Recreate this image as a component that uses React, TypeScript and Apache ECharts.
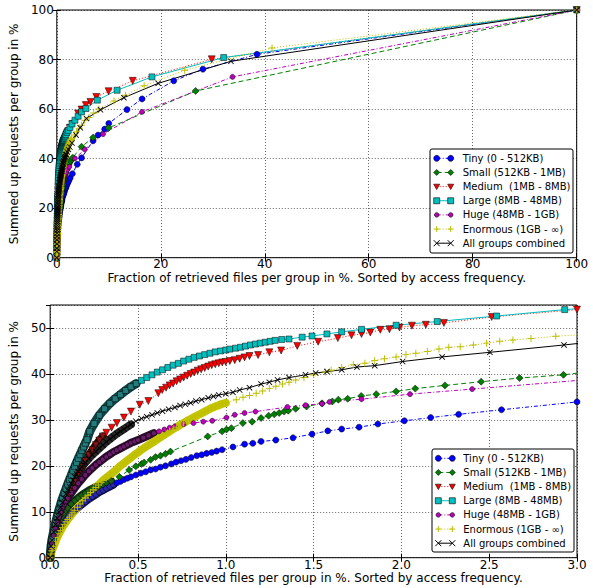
import React, { useEffect, useRef } from 'react';
import * as echarts from 'echarts';

type P = [number, number];

const TINY: P[] = [[0,0],[0.005,1.5],[0.01,2.5],[0.02,3.8],[0.03,4.8],[0.04,5.4],[0.05,6.0],[0.06,6.7],[0.07,7.3],[0.08,7.8],[0.09,8.3],[0.1,8.8],[0.12,9.6],[0.14,10.3],[0.16,11.0],[0.18,11.6],[0.2,12.2],[0.22,12.8],[0.24,13.3],[0.26,13.8],[0.28,14.3],[0.3,14.7],[0.32,15.1],[0.34,15.5],[0.36,15.9],[0.38,16.3],[0.4,16.6],[0.42,17.0],[0.44,17.3],[0.46,17.6],[0.488,18.0],[0.516,18.4],[0.544,18.7],[0.572,19.1],[0.6,19.3],[0.628,19.7],[0.657,20.0],[0.69,20.4],[0.717,20.8],[0.745,21.1],[0.773,21.4],[0.803,21.8],[0.835,22.2],[0.863,22.4],[0.891,22.7],[0.92,22.9],[0.948,23.2],[0.979,23.5],[1.041,24.1],[1.107,24.7],[1.154,24.9],[1.201,25.3],[1.285,25.6],[1.383,26.1],[1.491,26.9],[1.581,27.6],[1.66,28.0],[1.759,28.4],[1.866,29.1],[2.017,29.8],[2.167,30.5],[2.326,31.2],[2.57,32.2],[3.0,33.9],[3.93,37.7],[4.76,40.3],[6.98,47.2],[7.93,49.5],[9.2,51.9],[10.0,54.2],[13.5,59.8],[16.4,64.1],[22.5,71.4],[28.1,76.1],[38.5,82.1],[100,100]];

const SMALL: P[] = [[0,0],[0.005,1.5],[0.01,2.6],[0.02,4.2],[0.03,5.5],[0.04,6.6],[0.05,7.5],[0.06,8.3],[0.07,9.0],[0.08,9.7],[0.09,10.3],[0.1,10.8],[0.12,11.7],[0.14,12.4],[0.16,13.0],[0.18,13.6],[0.2,14.1],[0.22,14.6],[0.24,15.0],[0.26,15.4],[0.28,15.7],[0.3,16.0],[0.32,16.3],[0.347,16.7],[0.394,17.6],[0.45,19.1],[0.488,19.9],[0.52,20.4],[0.535,20.7],[0.572,21.3],[0.6,21.9],[0.628,22.2],[0.657,22.6],[0.685,23.1],[0.897,26.4],[0.979,27.5],[1.004,27.9],[1.032,28.2],[1.097,29.3],[1.15,29.6],[1.201,30.4],[1.244,30.9],[1.276,31.2],[1.304,31.5],[1.332,31.8],[1.356,32.0],[1.398,32.4],[1.46,32.9],[1.548,33.6],[1.607,34.0],[1.641,34.4],[1.694,34.6],[1.771,35.2],[1.857,35.6],[1.97,36.2],[2.079,36.8],[2.248,37.5],[2.454,38.3],[2.673,39.1],[2.923,39.8],[3.05,40.4],[4.76,44.8],[6.98,48.5],[9.96,52.4],[26.7,67.3],[100,100]];

const MEDIUM: P[] = [[0,0],[0.005,2.0],[0.01,3.0],[0.02,4.6],[0.03,5.9],[0.04,7.1],[0.05,8.2],[0.06,9.3],[0.07,10.3],[0.08,11.3],[0.09,12.2],[0.1,13.1],[0.12,14.9],[0.14,16.6],[0.16,18.2],[0.18,19.7],[0.2,21.0],[0.22,22.3],[0.24,23.4],[0.26,24.5],[0.28,25.5],[0.3,26.4],[0.32,27.2],[0.35,28.3],[0.38,29.3],[0.42,30.5],[0.46,31.8],[0.51,33.3],[0.559,34.1],[0.616,35.8],[0.638,36.5],[0.66,37.0],[0.68,37.5],[0.7,37.9],[0.72,38.4],[0.74,38.8],[0.76,39.2],[0.78,39.6],[0.8,40.0],[0.82,40.3],[0.84,40.7],[0.86,41.0],[0.88,41.3],[0.9,41.6],[0.92,41.9],[0.94,42.1],[0.96,42.3],[0.98,42.5],[1.0,42.6],[1.023,42.8],[1.051,43.0],[1.079,43.3],[1.107,43.6],[1.135,43.9],[1.184,44.1],[1.248,44.7],[1.315,45.1],[1.407,46.1],[1.526,47.0],[1.638,47.8],[1.716,48.4],[1.773,48.7],[1.823,49.0],[1.88,49.6],[1.932,49.7],[1.989,50.1],[2.06,50.5],[2.139,50.7],[2.242,51.1],[2.514,52.4],[3.0,54.0],[4.1,58.2],[4.76,59.8],[5.58,61.6],[6.47,62.9],[7.6,64.9],[9.96,67.2],[14.6,71.4],[29.8,80.1],[100,100]];

const LARGE: P[] = [[0,0],[0.005,2.5],[0.01,3.9],[0.02,5.8],[0.03,7.5],[0.04,9.0],[0.05,10.4],[0.06,11.7],[0.07,12.9],[0.08,14.0],[0.09,15.0],[0.1,16.0],[0.11,17.0],[0.12,17.9],[0.13,18.9],[0.14,19.8],[0.15,20.7],[0.16,21.6],[0.17,22.4],[0.18,23.3],[0.19,24.1],[0.2,24.9],[0.21,25.7],[0.225,27.5],[0.25,29.2],[0.28,31.0],[0.31,32.4],[0.34,33.6],[0.37,34.6],[0.4,35.5],[0.43,36.4],[0.46,37.2],[0.49,37.9],[0.52,38.6],[0.55,39.2],[0.58,39.8],[0.61,40.4],[0.64,40.9],[0.67,41.4],[0.7,41.9],[0.73,42.3],[0.76,42.8],[0.79,43.2],[0.82,43.6],[0.85,43.9],[0.88,44.2],[0.91,44.5],[0.94,44.8],[0.97,45.0],[1.0,45.2],[1.023,45.4],[1.056,45.6],[1.084,45.8],[1.112,46.05],[1.141,46.3],[1.169,46.5],[1.197,46.7],[1.225,46.9],[1.253,47.1],[1.281,47.3],[1.319,47.5],[1.36,47.6],[1.435,48.0],[1.491,48.25],[1.576,48.7],[1.66,49.15],[1.773,49.7],[1.97,50.6],[2.204,51.4],[2.542,52.6],[2.93,54.0],[3.49,55.5],[4.1,57.1],[4.76,58.9],[5.6,60.2],[7.8,63.6],[11.6,67.6],[18.3,73.0],[32.1,80.8],[100,100]];

const HUGE: P[] = [[0,0],[0.005,2.0],[0.01,3.0],[0.02,4.8],[0.03,6.3],[0.04,7.6],[0.05,8.8],[0.06,9.9],[0.07,10.8],[0.08,11.6],[0.09,12.3],[0.1,12.9],[0.12,14.1],[0.14,15.2],[0.16,16.2],[0.18,17.1],[0.2,18.0],[0.22,18.8],[0.24,19.5],[0.26,20.2],[0.28,20.8],[0.3,21.4],[0.32,22.0],[0.34,22.5],[0.36,23.0],[0.38,23.4],[0.4,23.8],[0.42,24.2],[0.44,24.6],[0.46,25.0],[0.48,25.3],[0.5,25.6],[0.53,26.1],[0.56,26.6],[0.59,27.1],[0.62,27.5],[0.65,27.9],[0.68,28.3],[0.71,28.6],[0.76,29.1],[0.816,29.3],[0.872,29.6],[0.923,29.8],[1.004,30.5],[1.051,31.1],[1.107,31.5],[1.169,31.8],[1.351,32.8],[1.454,33.2],[1.548,33.5],[1.591,33.9],[1.773,34.5],[2.049,35.6],[2.403,36.7],[3.49,40.1],[5.39,43.7],[8.9,49.9],[16.4,58.9],[33.8,73.0],[100,100]];

const ENORMOUS: P[] = [[0,0],[0.005,0.8],[0.01,1.5],[0.015,2.0],[0.02,2.5],[0.03,3.5],[0.04,4.4],[0.05,5.2],[0.06,5.9],[0.07,6.6],[0.08,7.2],[0.09,7.8],[0.1,8.3],[0.11,8.8],[0.12,9.3],[0.13,9.8],[0.14,10.3],[0.155,11.0],[0.17,11.7],[0.185,12.4],[0.2,13.0],[0.215,13.6],[0.23,14.2],[0.245,14.8],[0.26,15.3],[0.275,15.8],[0.29,16.4],[0.3,16.8],[0.32,17.4],[0.34,18.0],[0.36,18.6],[0.38,19.3],[0.4,20.0],[0.42,20.6],[0.44,21.2],[0.46,21.8],[0.48,22.4],[0.5,22.9],[0.52,23.5],[0.54,24.0],[0.56,24.5],[0.58,25.0],[0.6,25.5],[0.62,26.0],[0.64,26.5],[0.66,27.0],[0.68,27.5],[0.7,28.0],[0.72,28.4],[0.74,28.9],[0.76,29.3],[0.78,29.8],[0.8,30.2],[0.82,30.6],[0.84,31.0],[0.86,31.4],[0.88,31.8],[0.9,32.2],[0.92,32.6],[0.94,32.9],[0.96,33.2],[0.98,33.5],[1.0,33.7],[1.06,34.4],[1.098,34.9],[1.135,35.3],[1.173,35.8],[1.21,36.3],[1.248,36.8],[1.285,37.3],[1.323,37.8],[1.36,38.2],[1.398,38.7],[1.445,39.2],[1.501,39.8],[1.567,40.4],[1.6,40.8],[1.66,41.4],[1.726,42.0],[1.792,42.3],[1.848,42.9],[1.904,43.3],[1.97,43.7],[2.026,44.2],[2.082,44.5],[2.148,44.9],[2.214,45.4],[2.27,45.8],[2.335,45.9],[2.41,46.3],[2.485,46.7],[2.56,47.1],[2.635,47.4],[2.738,47.7],[2.879,48.2],[3.4,49.5],[3.8,50.8],[4.3,52.3],[4.76,53.5],[5.39,55.5],[6.2,56.6],[7.1,58.4],[8.1,60.0],[11.0,63.3],[13.2,65.6],[16.8,69.4],[24.6,75.7],[41.4,84.7],[100,100]];

const ALL: P[] = [[0,0],[0.005,2.5],[0.01,3.8],[0.02,5.6],[0.03,7.2],[0.04,8.6],[0.05,9.9],[0.06,11.0],[0.07,12.0],[0.08,13.0],[0.09,13.9],[0.1,14.7],[0.11,15.5],[0.12,16.2],[0.13,16.9],[0.14,17.6],[0.15,18.2],[0.16,18.8],[0.17,19.3],[0.18,19.8],[0.19,20.3],[0.2,20.7],[0.22,21.6],[0.24,22.4],[0.26,23.1],[0.28,23.8],[0.3,24.5],[0.32,25.2],[0.34,25.8],[0.36,26.4],[0.38,27.0],[0.4,27.5],[0.42,28.0],[0.44,28.5],[0.46,29.0],[0.488,29.7],[0.52,30.3],[0.55,30.7],[0.58,31.1],[0.61,31.5],[0.64,31.9],[0.675,32.3],[0.71,32.7],[0.74,33.1],[0.77,33.4],[0.8,33.7],[0.83,34.1],[0.863,34.4],[0.9,34.8],[0.93,35.1],[0.96,35.4],[1.0,35.7],[1.041,36.0],[1.079,36.5],[1.135,37.0],[1.201,37.8],[1.248,38.2],[1.295,38.7],[1.36,39.2],[1.454,39.8],[1.512,40.2],[1.576,40.5],[1.66,40.9],[1.747,41.5],[1.848,41.8],[2.007,42.7],[2.232,43.7],[2.504,44.7],[2.926,46.3],[3.7,49.5],[4.5,52.5],[5.7,56.2],[8.4,59.7],[12.9,64.6],[19.5,70.4],[33.5,79.3],[100,100]];

const X_NAME = 'Fraction of retrieved files per group in %. Sorted by access frequency.';
const Y_NAME = 'Summed up requests per group in %';
const TOP_X = { min: 0, max: 100, interval: 20 };
const TOP_Y = { min: 0, max: 100, interval: 20 };
const BOT_X = { min: 0, max: 3, interval: 0.5 };
const BOT_Y = { min: 0, max: 55, interval: 10 };

const PLUS = 'path://M4.3,0H5.7V4.3H10V5.7H5.7V10H4.3V5.7H0V4.3H4.3Z';
const CROSS = 'path://M0,1L1,0L5,4L9,0L10,1L6,5L10,9L9,10L5,6L1,10L0,9L4,5Z';

const GROUPS = [
  { name: 'Tiny (0 - 512KB)', data: TINY, color: '#0000ff', symbol: 'circle', mk: 'circle', size: 6, dash: [4, 2, 1, 2], band: 0.36, bandW: 8, bandColor: '#10105e', dense: '#2828a8' },
  { name: 'Small (512KB - 1MB)', data: SMALL, color: '#008000', symbol: 'diamond', mk: 'diamond', size: 7, dash: [5, 3], band: 0.35, bandW: 8, bandColor: '#0f360f', dense: '#1a5e1a' },
  { name: 'Medium \u00a0(1MB - 8MB)', data: MEDIUM, color: '#ff0000', symbol: 'triangle', mk: 'tri', size: 7, rotate: 180, dash: [1, 2], band: 0.3, bandW: 8, bandColor: '#350a0a', dense: '#861414' },
  { name: 'Large (8MB - 48MB)', data: LARGE, color: '#00bfbf', symbol: 'rect', mk: 'rect', size: 6, dash: 'solid', band: 0.5, bandW: 9, bandColor: '#114444', dense: '#237c7c' },
  { name: 'Huge (48MB - 1GB)', data: HUGE, color: '#bf00bf', symbol: 'circle', mk: 'circle', size: 5, dash: [4, 2, 1, 2], band: 0.6, bandW: 8, bandColor: '#2e0e2e', dense: '#6a1c6a' },
  { name: 'Enormous (1GB - \u221e)', data: ENORMOUS, color: '#bfbf00', symbol: PLUS, mk: 'plus', size: 7, dash: [1, 2], band: 1.0, bandW: 8, bandColor: '#c4c400', dense: '#bfbf00', noBorder: true },
  { name: 'All groups combined', data: ALL, color: '#000000', symbol: CROSS, mk: 'cross', size: 6, dash: 'solid', band: 0.46, bandW: 8, bandColor: '#262626', dense: '#000000', noBorder: true },
];

const FONT = '"DejaVu Sans", "Liberation Sans", sans-serif';

function markerEls(mk: string, cx: number, cy: number, color: string, size: number) {
  const r = size / 2;
  const st = { fill: color, stroke: '#000', lineWidth: 0.6 };
  switch (mk) {
    case 'circle':
      return [{ type: 'circle', shape: { cx, cy, r }, style: st }];
    case 'diamond':
      return [{ type: 'polygon', shape: { points: [[cx, cy - r], [cx + r, cy], [cx, cy + r], [cx - r, cy]] }, style: st }];
    case 'tri':
      return [{ type: 'polygon', shape: { points: [[cx - r, cy - r * 0.8], [cx + r, cy - r * 0.8], [cx, cy + r]] }, style: st }];
    case 'rect':
      return [{ type: 'rect', shape: { x: cx - r, y: cy - r, width: size, height: size }, style: st }];
    case 'plus':
      return [
        { type: 'line', shape: { x1: cx - r, y1: cy, x2: cx + r, y2: cy }, style: { stroke: color, lineWidth: 1 } },
        { type: 'line', shape: { x1: cx, y1: cy - r, x2: cx, y2: cy + r }, style: { stroke: color, lineWidth: 1 } },
      ];
    default:
      return [
        { type: 'line', shape: { x1: cx - r, y1: cy - r, x2: cx + r, y2: cy + r }, style: { stroke: color, lineWidth: 1 } },
        { type: 'line', shape: { x1: cx - r, y1: cy + r, x2: cx + r, y2: cy - r }, style: { stroke: color, lineWidth: 1 } },
      ];
  }
}

function legend(bx: number, by: number, bw: number, bh: number, row0: number, step: number, m1: number, m2: number, tx: number) {
  const els: any[] = [
    { type: 'rect', shape: { x: bx, y: by, width: bw, height: bh, r: 2 }, style: { fill: '#fff', stroke: '#000', lineWidth: 1 }, z: 100 },
  ];
  GROUPS.forEach((g, i) => {
    const cy = row0 + i * step;
    els.push({
      type: 'line', z: 101,
      shape: { x1: m1, y1: cy, x2: m2, y2: cy },
      style: { stroke: g.color, lineWidth: 1, lineDash: g.dash === 'solid' ? null : g.dash },
    });
    const ms = g.mk === 'circle' && g.size < 6 ? 4.5 : Math.min(g.size, 6);
    markerEls(g.mk, m1, cy, g.color, ms).forEach((e: any) => els.push({ ...e, z: 102 }));
    markerEls(g.mk, m2, cy, g.color, ms).forEach((e: any) => els.push({ ...e, z: 102 }));
    els.push({
      type: 'text', z: 102, x: tx, y: cy,
      style: { text: g.name, fill: '#000', font: '10px ' + FONT, align: 'left', verticalAlign: 'middle', textAlign: 'left', textVerticalAlign: 'middle' },
    });
  });
  return els;
}

function mainAxis(gridIndex: number, sc: any, extra: any) {
  return {
    gridIndex, type: 'value', min: sc.min, max: sc.max, interval: sc.interval,
    axisLine: { show: false },
    axisTick: { show: true, inside: true, length: 4, lineStyle: { color: '#000', width: 1 } },
    axisLabel: { color: '#000', fontSize: 12, fontFamily: FONT, margin: 3 },
    splitLine: { show: true, lineStyle: { color: '#000', width: 0.6, type: [1, 2] } },
    nameTextStyle: { color: '#000', fontSize: 12, fontFamily: FONT },
    ...extra,
  };
}

function sideAxis(gridIndex: number, sc: any, position: string) {
  return {
    gridIndex, type: 'value', position, min: sc.min, max: sc.max, interval: sc.interval,
    axisLine: { show: false },
    axisTick: { show: true, inside: true, length: 4, lineStyle: { color: '#000', width: 1 } },
    axisLabel: { show: false },
    splitLine: { show: false },
  };
}

export default function App() {
  const ref = useRef<HTMLDivElement>(null);
  useEffect(() => {
    document.body.style.margin = '0';
    if (!ref.current) return;
    const chart = echarts.init(ref.current, null, { renderer: 'svg' });
    const series: any[] = [];
    [0, 1].forEach((gi) => {
      GROUPS.forEach((g: any) => {
        if (gi === 1) {
          series.push({
            type: 'line', xAxisIndex: 1, yAxisIndex: 1, silent: true,
            data: g.data.filter((p: P) => p[0] <= g.band),
            showSymbol: false, symbol: 'none',
            lineStyle: { color: g.bandColor, width: g.bandW, cap: 'round', join: 'round' },
          });
        }
        series.push({
          name: g.name, type: 'line', xAxisIndex: gi, yAxisIndex: gi,
          data: g.data.map((p: P) => (gi === 1 && p[0] <= g.band ? { value: p, itemStyle: { color: g.dense } } : p)),
          symbol: g.symbol, symbolSize: g.size, symbolRotate: g.rotate || 0,
          showAllSymbol: true,
          itemStyle: { color: g.color, borderColor: '#000', borderWidth: g.noBorder ? 0 : 0.5 },
          lineStyle: { color: g.color, width: 1, type: g.dash },
        });
      });
    });
    const lab = (margin: number, extra: any = {}) => ({ color: '#000', fontSize: 12, fontFamily: FONT, margin, ...extra });
    chart.setOption({
      animation: false,
      backgroundColor: '#fff',
      grid: [
        { left: 51.7, top: 10, width: 525, height: 247.7, show: true, borderColor: '#000', borderWidth: 1, backgroundColor: 'transparent' },
        { left: 43.3, top: 305, width: 533.7, height: 252.7, show: true, borderColor: '#000', borderWidth: 1, backgroundColor: 'transparent' },
      ],
      xAxis: [
        mainAxis(0, TOP_X, { name: X_NAME, nameLocation: 'middle', nameGap: 14, axisLabel: lab(0) }),
        mainAxis(1, BOT_X, { name: X_NAME, nameLocation: 'middle', nameGap: 14, axisLabel: lab(1, { formatter: (v: number) => v.toFixed(1) }) }),
        sideAxis(0, TOP_X, 'top'),
        sideAxis(1, BOT_X, 'top'),
      ],
      yAxis: [
        mainAxis(0, TOP_Y, { name: Y_NAME, nameLocation: 'middle', nameGap: 30, axisLabel: lab(3) }),
        mainAxis(1, BOT_Y, { name: Y_NAME, nameLocation: 'middle', nameGap: 19, axisLabel: lab(4, { showMaxLabel: false }) }),
        sideAxis(0, TOP_Y, 'right'),
        sideAxis(1, BOT_Y, 'right'),
      ],
      series,
      graphic: [
        ...legend(430, 149, 143, 104, 158.3, 14.15, 436.7, 450.7, 462.7),
        ...legend(432, 449, 142, 103, 458.3, 14.15, 438.3, 452.3, 463.3),
      ],
    });
    return () => chart.dispose();
  }, []);
  return <div ref={ref} style={{ width: 593, height: 588 }} />;
}
